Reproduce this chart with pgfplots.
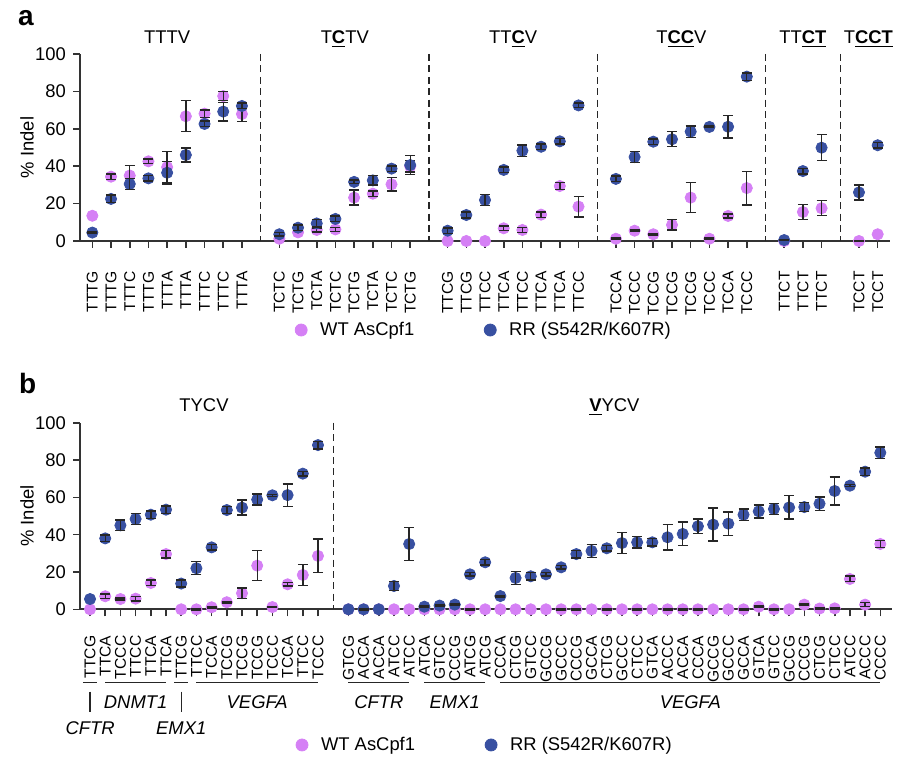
\documentclass[border=0pt]{standalone}
\usepackage{fontspec}
\setmainfont{Liberation Sans}
\usepackage{pgfplots}
\pgfplotsset{compat=1.18}
\usepackage{pgfplotstable}

\definecolor{wtcol}{RGB}{213,128,245}
\definecolor{rrcol}{RGB}{56,80,161}

% ---- panel a: mean indel (%) per target site ----
\pgfplotstableread{
x  wt    rr
0  13.5  4.5
1  34.4  22.5
2  35    30.5
3  42.6  33.5
4  39.5  36.5
5  66.7  46
6  68.1  62.6
7  77.5  69.2
8  67.9  72.2
10 1.2   3.6
11 4.6   7.1
12 5.9   9.4
13 6.2   11.8
14 23.2  31.6
15 25.3  32.4
16 30.3  38.7
17 39.9  40.6
19 0     5.5
20 0     13.9
21 0     21.9
22 6.8   38
23 5.9   48.3
24 14.1  50.4
25 29.4  53.3
26 18.4  72.5
28 1.2   33.2
29 5.5   44.9
30 3.6   53.1
31 8.6   54.4
32 23.2  58.5
33 1.2   61
34 13.4  61.1
35 28.3  87.9
37 0     0.5
38 15.5  37.4
39 17.5  49.9
41 0     26
42 3.6   51.2
}\tabA
% error bars (s.e.m.) where shown
\pgfplotstableread{
x  y     e
1  34.4  1.5
2  35    5.5
3  42.6  1.2
4  39.5  8.5
5  66.7  8.3
6  68.1  2
7  77.5  2.5
8  67.9  4
12 5.9   1
13 6.2   1
14 23.2  4
15 25.3  1.5
16 30.3  3.5
17 39.9  3
22 6.8   1.2
23 5.9   1.2
24 14.1  1.5
25 29.4  1.8
26 18.4  5.5
28 1.2   0.3
29 5.5   0.4
30 3.6   0.4
31 8.6   2.8
32 23.2  8
33 1.2   0.3
34 13.4  1
35 28.3  9
38 15.5  4
39 17.5  4
41 0     0.3
}\errAwt
\pgfplotstableread{
x  y     e
0  4.5   0.4
1  22.5  2
2  30.5  3
3  33.5  1.5
4  36.5  6
5  46    3.7
6  62.6  1.5
7  69.2  5
8  72.2  1.5
10 3.6   1
11 7.1   1.5
12 9.4   2
13 11.8  1.5
14 31.6  1
15 32.4  2.5
16 38.7  1.5
17 40.6  5
19 5.5   1.5
20 13.9  1.5
21 21.9  3
22 38    1.5
23 48.3  3
24 50.4  1.5
25 53.3  1.5
26 72.5  1.2
28 33.2  1.5
29 44.9  3
30 53.1  1.5
31 54.4  4
32 58.5  3
33 61    0.4
34 61.1  6
35 87.9  2
37 0.5   0.3
38 37.4  1.5
39 49.9  7
41 26    4
42 51.2  1.5
}\errArr

% ---- panel b ----
\pgfplotstableread{
x  wt    rr
0  0     5.5
1  7     38
2  5.5   45
3  5.7   48.4
4  14.1  50.7
5  29.6  53.4
6  0     13.8
7  0     22
8  1.1   33.2
9  3.8   53.2
10 8.6   54.5
11 23.4  58.8
12 1.2   61.1
13 13.4  61.2
14 18.4  72.7
15 28.6  88
17 0     0
18 0     0
19 0     0
20 0     12.5
21 0     35
22 0     1.4
23 0     2
24 0     2.5
25 0     18.75
26 0     25.2
27 0     7.1
28 0     16.8
29 0     17.7
30 0     18.75
31 0     22.5
32 0     29.6
33 0     31.25
34 0     32.7
35 0     35.5
36 0     35.9
37 0     35.9
38 0     38.6
39 0     40.4
40 0     44.5
41 0     45.4
42 0     45.9
43 0     50.7
44 1.4   52.5
45 0     53.75
46 0     54.6
47 2.5   54.8
48 0.4   56.6
49 0.5   63.4
50 16.25 66.25
51 2.5   73.75
52 35    83.9
}\tabB
\pgfplotstableread{
x  y     e
1  7     1.2
2  5.5   0.5
3  5.7   1.2
4  14.1  1.5
5  29.6  2
7  0     0.3
8  1.1   0.3
9  3.8   0.4
10 8.6   2.8
11 23.4  8
12 1.2   0.3
13 13.4  1
14 18.4  5.5
15 28.6  9
25 0     0.3
31 0     0.3
32 0     0.3
34 0     0.3
36 0     0.3
38 0     0.3
39 0     0.3
40 0     0.3
43 0     0.3
44 1.4   0.4
45 0     0.3
47 2.5   0.4
48 0.4   0.3
49 0.5   0.3
50 16.25 1.5
51 2.5   1
52 35    1.8
}\errBwt
\pgfplotstableread{
x  y     e
1  38    1.8
2  45    2.8
3  48.4  3
4  50.7  2
5  53.4  2
6  13.8  1.8
7  22    3.5
8  33.2  1.5
9  53.2  2
10 54.5  4
11 58.8  3
12 61.1  0.5
13 61.2  6
14 72.7  1.3
15 88    2
18 0     0.3
20 12.5  2.5
21 35    9
22 1.4   0.3
23 2     0.4
24 2.5   0.4
25 18.75 1
26 25.2  1.5
27 7.1   0.4
28 16.8  3.5
29 17.7  2
30 18.75 1
31 22.5  1
32 29.6  2
33 31.25 3.5
34 32.7  1.5
35 35.5  5.5
36 35.9  3
37 35.9  2
38 38.6  6.8
39 40.4  6.3
40 44.5  4
41 45.4  8.8
42 45.9  6.3
43 50.7  3
44 52.5  3.5
45 53.75 3
46 54.6  6.3
47 54.8  2.5
48 56.6  3.5
49 63.4  7.5
50 66.25 0.5
51 73.75 2
52 83.9  3
}\errBrr

\pgfplotsset{
  indel/.style={
    scale only axis, axis lines*=left, clip=false,
    clip marker paths=true,   % draw each plot's marks in plot order
    ymin=0, ymax=100, ytick={0,20,...,100},
    tick align=outside, major tick length=3.5pt,
    axis line style={black!80, line width=0.9pt},
    tick style={black!80, line width=0.8pt},
    yticklabel style={font=\fontsize{9.2}{10}\selectfont},
    /pgf/number format/assume math mode=true,
    xticklabel style={rotate=90, anchor=east, inner sep=0pt,
      font=\fontsize{7.8}{8}\selectfont},
    legend columns=2,
    legend style={draw=none, fill=none, font=\fontsize{9.2}{11}\selectfont,
      anchor=center, /tikz/every even column/.append style={column sep=33pt}},
    legend image code/.code={%
      \draw[##1, mark size=3pt] plot coordinates {(0pt,0pt)};
      \path[draw=none, fill=none] (-3pt,0pt) rectangle (7.5pt,0.1pt);},
  },
  wtmark/.style={only marks, mark=*, mark size=2.8pt, color=wtcol,
    mark options={draw=none, fill=wtcol}},
  rrmark/.style={only marks, mark=*, mark size=2.8pt, color=rrcol,
    mark options={draw=none, fill=rrcol}},
  % error bars only: no line, no marker at the mean
  errs/.style={forget plot, draw=none, mark=none,
    error bars/.cd, y dir=both, y explicit, error mark=-,
    error bar style={draw=black!85, line width=0.7pt},
    error mark options={rotate=90, draw=black!85, line width=0.7pt, mark size=2.5pt}},
}

\tikzset{sep/.style={black!85, line width=0.6pt, dash pattern=on 3.5pt off 2.2pt}}

\begin{document}
\begin{tikzpicture}
\useasboundingbox (0pt,0pt) rectangle (448.5pt,-379pt);

% panel letters and y labels
\node[anchor=base west, font=\bfseries\fontsize{14}{14}\selectfont] at (5.5pt,-13pt) {a};
\node[anchor=base west, font=\bfseries\fontsize{14}{14}\selectfont] at (6pt,-196.7pt) {b};
\node[rotate=90, font=\fontsize{9.2}{10}\selectfont] at (13.5pt,-73.75pt) {\% Indel};
\node[rotate=90, font=\fontsize{9.2}{10}\selectfont] at (13.5pt,-258pt) {\% Indel};

% ---------------- panel a ----------------
\begin{axis}[indel,
  at={(40pt,-120.5pt)}, anchor=south west,
  width=405pt, height=93.5pt,
  xmin=-0.66, xmax=42.66,
  xticklabel shift=11.5pt,
  xtick={0,1,2,3,4,5,6,7,8,10,11,12,13,14,15,16,17,19,20,21,22,23,24,25,26,28,29,30,31,32,33,34,35,37,38,39,41,42},
  xticklabels={TTTG,TTTG,TTTC,TTTG,TTTA,TTTA,TTTC,TTTC,TTTA,
    TCTC,TCTG,TCTA,TCTC,TCTG,TCTA,TCTC,TCTG,
    TTCG,TTCG,TTCC,TTCA,TTCC,TTCA,TTCA,TTCC,
    TCCA,TCCC,TCCG,TCCG,TCCG,TCCC,TCCA,TCCC,
    TTCT,TTCT,TTCT,TCCT,TCCT},
  legend style={at={(0.5,-0.476)}},
]
\addplot[wtmark] table[x=x, y=wt] {\tabA};
\addlegendentry{WT AsCpf1}
\addplot[errs] table[x=x, y=y, y error=e] {\errAwt};
\addplot[rrmark] table[x=x, y=rr] {\tabA};
\addlegendentry{RR (S542R/K607R)}
\addplot[errs] table[x=x, y=y, y error=e] {\errArr};

% group separators
\draw[sep] (axis cs:9,100) -- (axis cs:9,0);
\draw[sep] (axis cs:18,100) -- (axis cs:18,0);
\draw[sep] (axis cs:27,100) -- (axis cs:27,0);
\draw[sep] (axis cs:36,100) -- (axis cs:36,0);
\draw[sep] (axis cs:40,100) -- (axis cs:40,0);

\begin{scope}[font=\fontsize{9.2}{10}\selectfont]
\node[anchor=base] at (axis cs:4,105.7) {TTTV};
\node[anchor=base] at (axis cs:13.5,105.7) {T\underline{\textbf{C}}TV};
\node[anchor=base] at (axis cs:22.5,105.7) {TT\underline{\textbf{C}}V};
\node[anchor=base] at (axis cs:31.5,105.7) {T\underline{\textbf{CC}}V};
\node[anchor=base] at (axis cs:38,105.7) {TT\underline{\textbf{CT}}};
\node[anchor=base] at (axis cs:41.5,105.7) {T\underline{\textbf{CCT}}};
\end{scope}
\end{axis}

% ---------------- panel b ----------------
\begin{axis}[indel,
  at={(40pt,-304.65pt)}, anchor=south west,
  width=405.85pt, height=93.3pt,
  xmin=-0.66, xmax=52.75,
  xticklabel shift=9.5pt,
  xtick={0,1,...,15,17,18,...,52},
  xticklabels={TTCG,TTCA,TCCC,TTCC,TTCA,TTCA,TTCG,TTCC,TCCA,TCCG,TCCG,TCCG,TCCC,TCCA,TTCC,TCCC,
    GTCG,ACCA,ACCA,ATCC,ATCC,ATCA,GTCC,CCCG,ATCG,ATCG,
    CCCA,CTCG,GTCC,GCCG,GCCC,CCCG,GCCA,CTCG,GCCC,CTCC,GTCA,ACCC,ACCA,
    CCCA,GCCG,GCCC,GCCA,GTCA,GTCC,GCCG,CCCG,CTCG,CTCC,ATCC,ACCC,CCCC},
  legend style={at={(0.5,-0.727)}},
]
\addplot[wtmark] table[x=x, y=wt] {\tabB};
\addlegendentry{WT AsCpf1}
\addplot[errs] table[x=x, y=y, y error=e] {\errBwt};
\addplot[rrmark] table[x=x, y=rr] {\tabB};
\addlegendentry{RR (S542R/K607R)}
\addplot[errs] table[x=x, y=y, y error=e] {\errBrr};

\draw[sep] (axis cs:16,100) -- (axis cs:16,0);

\begin{scope}[font=\fontsize{9.2}{10}\selectfont]
\node[anchor=base] at (axis cs:7.5,106.2) {TYCV};
\node[anchor=base] at (axis cs:34.5,106.2) {\underline{\textbf{V}}YCV};
\end{scope}

% gene brackets
\begin{scope}[black!85, line width=0.6pt]
\draw (axis cs:-0.47,-39.3) -- (axis cs:0.47,-39.3);
\draw (axis cs:1,-39.3) -- (axis cs:5,-39.3);
\draw (axis cs:5.53,-39.3) -- (axis cs:6.47,-39.3);
\draw (axis cs:7,-39.3) -- (axis cs:15,-39.3);
\draw (axis cs:17,-39.3) -- (axis cs:21,-39.3);
\draw (axis cs:22,-39.3) -- (axis cs:26,-39.3);
\draw (axis cs:27,-39.3) -- (axis cs:52,-39.3);
\draw (axis cs:0,-44.1) -- (axis cs:0,-54.8);
\draw (axis cs:6,-44.1) -- (axis cs:6,-54.8);
\end{scope}
\begin{scope}[font=\itshape\fontsize{9.2}{10}\selectfont]
\node at (axis cs:3,-49.5) {DNMT1};
\node at (axis cs:11,-49.5) {VEGFA};
\node at (axis cs:19,-49.5) {CFTR};
\node at (axis cs:24,-49.5) {EMX1};
\node at (axis cs:39.5,-49.5) {VEGFA};
\node at (axis cs:0,-63.6) {CFTR};
\node at (axis cs:6,-63.6) {EMX1};
\end{scope}
\end{axis}
\end{tikzpicture}
\end{document}
